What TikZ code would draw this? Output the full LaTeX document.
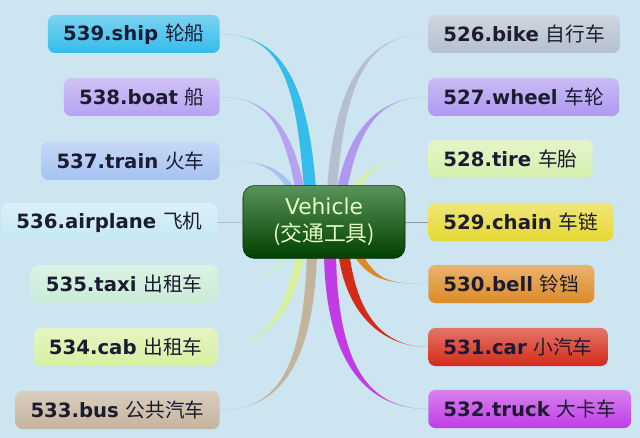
\documentclass[tikz,border=0pt]{standalone}
\usepackage{fontspec}
\setsansfont{DejaVu Sans}
\newfontfamily\cjk{Noto Sans CJK SC}
\usetikzlibrary{calc}
\pgfdeclarelayer{bg}
\pgfdeclarelayer{links}
\pgfsetlayers{bg,links,main}
\definecolor{paper}{HTML}{CDE4F1}
\definecolor{ink}{HTML}{1C1C30}
\definecolor{cship}{HTML}{34BCEA}
\definecolor{cboat}{HTML}{B6A2F2}
\definecolor{ctrain}{HTML}{A6C2F2}
\definecolor{cplane}{HTML}{C6E8F4}
\definecolor{ctaxi}{HTML}{C8ECD6}
\definecolor{ccab}{HTML}{D6F0A0}
\definecolor{cbus}{HTML}{C4B49C}
\definecolor{cbike}{HTML}{B4C0CE}
\definecolor{cwheel}{HTML}{AE98F0}
\definecolor{ctire}{HTML}{D4F0AC}
\definecolor{cchain}{HTML}{E6D832}
\definecolor{cbell}{HTML}{DE8A24}
\definecolor{ccar}{HTML}{D42A18}
\definecolor{ctruck}{HTML}{C23CE6}
\tikzset{
  leaf/.style={rounded corners=5pt, minimum height=0.95cm, inner xsep=0.38cm,
    top color=#1!65!white, bottom color=#1, text=ink,
    font=\fontsize{14}{16}\selectfont\sffamily\bfseries},
  hub/.style={rounded corners=8pt, minimum width=4.05cm, minimum height=1.82cm,
    top color=green!35!black!65!white, bottom color=green!25!black, draw=green!20!black,
    text=green!40!yellow!25!white, align=center,
    font=\fontsize{15.5}{19}\selectfont\sffamily},
  twig/.style={line width=0.6pt, draw=#1}
}
\newcommand\branch[6]{
  % #1 - colour
  % #2 - point on the Vehicle box
  % #3 - half width at that point
  % #4 - first control, relative to #2
  % #5 - end point on a leaf
  % #6 - second control, relative to #5
  \fill[#1] ($(#2)+(-#3,0)$) .. controls ($(#2)+(#4)+(-#3,0)$) and ($(#5)+(#6)$) .. (#5)
    .. controls ($(#5)+(#6)$) and ($(#2)+(#4)+(#3,0)$) .. ($(#2)+(#3,0)$) -- cycle;
}

\begin{document}
\begin{tikzpicture}[x=0.025cm, y=-0.025cm]
  \begin{pgfonlayer}{bg}
    \fill[paper] (0,0) rectangle (640,438);
  \end{pgfonlayer}
  \useasboundingbox (0,0) rectangle (640,438);

  \node[hub] (vehicle) at (324,222) {Vehicle\\{\cjk (交通工具)}};

  \node[leaf=cship, anchor=east] (ship) at (220,34) {539.ship {\cjk\mdseries 轮船}};
  \node[leaf=cboat, anchor=east] (boat) at (220,97) {538.boat {\cjk\mdseries 船}};
  \node[leaf=ctrain, anchor=east] (train) at (220,161) {537.train {\cjk\mdseries 火车}};
  \node[leaf=cplane, anchor=east] (airplane) at (218,222) {536.airplane {\cjk\mdseries 飞机}};
  \node[leaf=ctaxi, anchor=east] (taxi) at (218,284) {535.taxi {\cjk\mdseries 出租车}};
  \node[leaf=ccab, anchor=east] (cab) at (218,347) {534.cab {\cjk\mdseries 出租车}};
  \node[leaf=cbus, anchor=east] (bus) at (220,410) {533.bus {\cjk\mdseries 公共汽车}};

  \node[leaf=cbike, anchor=west] (bike) at (428,34) {526.bike {\cjk\mdseries 自行车}};
  \node[leaf=cwheel, anchor=west] (wheel) at (428,97) {527.wheel {\cjk\mdseries 车轮}};
  \node[leaf=ctire, anchor=west] (tire) at (428,159) {528.tire {\cjk\mdseries 车胎}};
  \node[leaf=cchain, anchor=west] (chain) at (428,222) {529.chain {\cjk\mdseries 车链}};
  \node[leaf=cbell, anchor=west] (bell) at (428,284) {530.bell {\cjk\mdseries 铃铛}};
  \node[leaf=ccar, anchor=west] (car) at (428,347) {531.car {\cjk\mdseries 小汽车}};
  \node[leaf=ctruck, anchor=west] (truck) at (428,409) {532.truck {\cjk\mdseries 大卡车}};

  \begin{pgfonlayer}{links}
    % left side
    \branch{cship}{$(vehicle.north)+(-14,4)$}{6}{-8,-110}{ship.east}{60,0}
    \branch{cboat}{$(vehicle.north)+(-24,4)$}{4.5}{-12,-60}{boat.east}{50,0}
    \branch{ctrain}{$(vehicle.north)+(-32,4)$}{4}{-18,-25}{train.east}{40,0}
    \draw[twig=cplane!85!black] (vehicle.west) -- (airplane.east);
    \branch{ctaxi}{$(vehicle.south)+(-38,-4)$}{4}{-15,25}{taxi.east}{40,0}
    \branch{ccab}{$(vehicle.south)+(-24,-4)$}{4.5}{-10,60}{cab.east}{45,0}
    \branch{cbus}{$(vehicle.south)+(-12,-4)$}{5}{-4,110}{bus.east}{60,0}
    % right side
    \branch{cbike}{$(vehicle.north)+(8,4)$}{5}{8,-110}{bike.west}{-60,0}
    \branch{cwheel}{$(vehicle.north)+(18,4)$}{5}{12,-60}{wheel.west}{-50,0}
    \branch{ctire}{$(vehicle.north)+(30,4)$}{4}{18,-25}{tire.west}{-40,0}
    \draw[twig=cbike!80!black] (vehicle.east) -- (chain.west);
    \branch{cbell}{$(vehicle.south)+(34,-4)$}{4.5}{15,25}{bell.west}{-40,0}
    \branch{ccar}{$(vehicle.south)+(20,-4)$}{5.5}{8,60}{car.west}{-45,0}
    \branch{ctruck}{$(vehicle.south)+(6,-4)$}{6}{2,110}{truck.west}{-60,0}
  \end{pgfonlayer}
\end{tikzpicture}
\end{document}
